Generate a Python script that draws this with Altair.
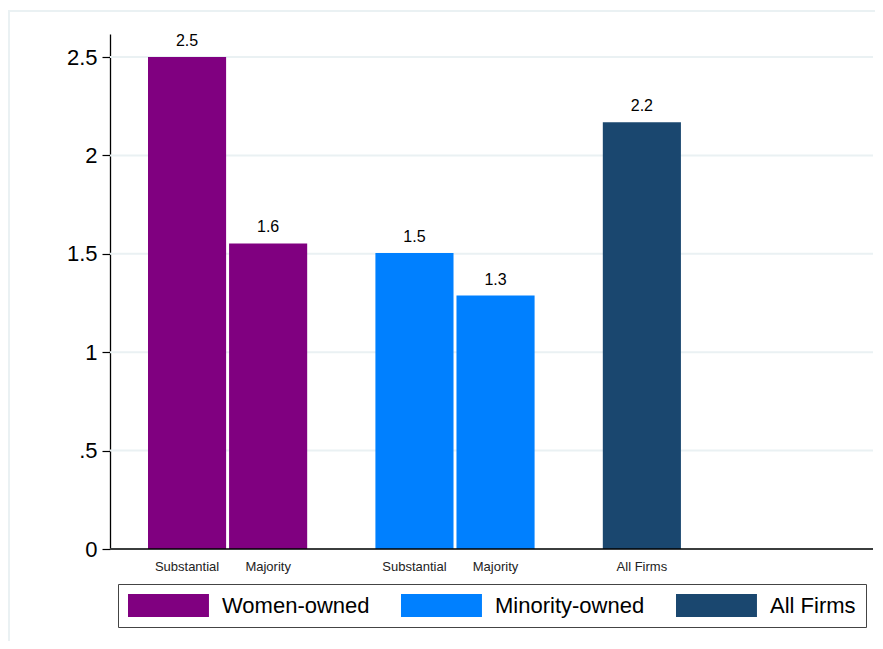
import altair as alt
import pandas as pd

GROUPS = ["Women-owned", "Minority-owned", "All Firms"]
COLORS = ["#800080", "#0080ff", "#1a476f"]

BAR_GROUP = ["Women-owned", "Women-owned", "Minority-owned", "Minority-owned", "All Firms"]
BAR_LABEL = ["Substantial", "Majority", "Substantial", "Majority", "All Firms"]
BAR_VALUE = [2.50, 1.553, 1.504, 1.288, 2.168]

Y_TICKS = [0, 0.5, 1, 1.5, 2, 2.5]

# slot index within each group
slots = []
seen = {}
for g in BAR_GROUP:
    slots.append(str(seen.get(g, 0)))
    seen[g] = seen.get(g, 0) + 1

df = pd.DataFrame({"group": BAR_GROUP, "label": BAR_LABEL, "value": BAR_VALUE, "slot": slots})
ticks_df = pd.DataFrame({"value": Y_TICKS})

FONT = "Liberation Sans"
W, H = 763, 515

x_enc = alt.X("group:N", scale=alt.Scale(domain=GROUPS, range=[38, 652], paddingInner=0.30, paddingOuter=0), axis=None)
xo_enc = alt.XOffset("slot:N", scale=alt.Scale(domain=["0", "1"], paddingInner=0.0366, paddingOuter=0))
y_scale = alt.Scale(domain=[0, 2.617], nice=False, zero=True)
y_enc = alt.Y("value:Q", scale=y_scale,
              axis=alt.Axis(values=Y_TICKS, title=None, grid=False,
                            domainColor="black", domainWidth=1.3, tickColor="black", tickSize=8,
                            tickWidth=1.2, labelFontSize=22, labelFont=FONT, labelColor="black",
                            labelPadding=5,
                            labelExpr="datum.value > 0 && datum.value < 1 ? slice(format(datum.value, '~g'), 1) : format(datum.value, '~g')"))

frame = alt.Chart(pd.DataFrame({"a": [0]})).mark_rect(fillOpacity=0, stroke="#eaf1f3", strokeWidth=2).encode(
    x=alt.value(-101), x2=alt.value(900), y=alt.value(-23), y2=alt.value(700))

grid = alt.Chart(ticks_df).mark_rule(color="#eaf1f3", strokeWidth=2).encode(
    y=y_enc, x=alt.value(0), x2=alt.value(W))

bars = alt.Chart(df).mark_bar().encode(
    x=x_enc, xOffset=xo_enc, y=y_enc,
    color=alt.Color("group:N", scale=alt.Scale(domain=GROUPS, range=COLORS),
                    legend=alt.Legend(title=None, orient="none", legendX=8, legendY=550,
                                      direction="horizontal", columns=3,
                                      symbolType="M-1,-1H6.04V1H-1Z", symbolSize=529,
                                      symbolStrokeWidth=0, symbolOpacity=1,
                                      labelFontSize=22, labelFont=FONT, labelColor="black",
                                      labelOffset=71, columnPadding=31, padding=10,
                                      strokeColor="#444", fillColor="white", labelLimit=400)),
)

value_text = alt.Chart(df).mark_text(baseline="alphabetic", dy=-11, fontSize=16, font=FONT, color="black").encode(
    x=x_enc, xOffset=xo_enc, y=y_enc, text=alt.Text("value:Q", format=".1f"))

cat_text = alt.Chart(df).mark_text(baseline="alphabetic", fontSize=13, font=FONT, color="#222").encode(
    x=x_enc, xOffset=xo_enc, y=alt.value(H + 22), text="label:N")

xaxis = alt.Chart(pd.DataFrame({"a": [0]})).mark_rule(color="black", strokeWidth=1.3).encode(
    y=alt.datum(0), x=alt.value(0), x2=alt.value(W))

chart = alt.layer(frame, grid, bars, value_text, cat_text, xaxis).properties(
    width=W, height=H,
    padding={"left": 102, "top": 26, "right": 2, "bottom": 92},
    autosize=alt.AutoSizeParams(type="none"),
    background="white",
).configure_view(stroke=None)

chart.save("out.html", embed_options={"renderer": "svg", "actions": False})
